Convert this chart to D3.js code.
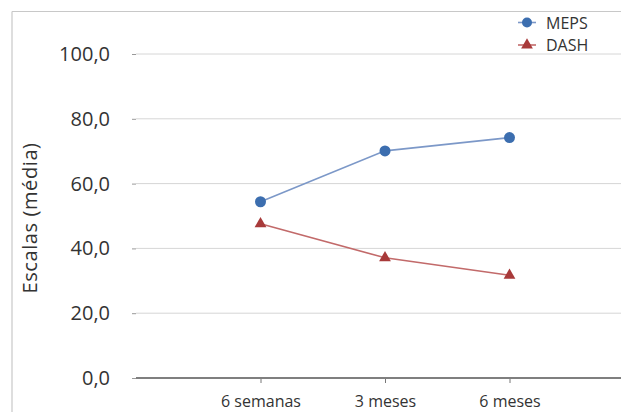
<!DOCTYPE html>
<html>
<head>
<meta charset="utf-8">
<script src="https://cdn.jsdelivr.net/npm/d3@7"></script>
<style>
  body { margin: 0; background: #fff; }
  text { font-family: "Open Sans", Lato, sans-serif; fill: #333; }
</style>
</head>
<body>
<div id="chart"></div>
<script>
// data
const categories = ["6 semanas", "3 meses", "6 meses"];
const meps = [54.4, 70.1, 74.2];
const dash = [47.6, 37.1, 31.7];
const yTicks = [0, 20, 40, 60, 80, 100];
const seriesNames = ["MEPS", "DASH"];

const width = 621, height = 412;

const svg = d3.select("#chart").append("svg")
    .attr("width", width)
    .attr("height", height);

// outer frame (only top and left edges are visible)
svg.append("line").attr("x1", 12).attr("x2", width).attr("y1", 11.5).attr("y2", 11.5)
    .attr("stroke", "#c8c8c8").attr("stroke-width", 1.2);
svg.append("line").attr("x1", 12).attr("x2", 12).attr("y1", 11.5).attr("y2", height)
    .attr("stroke", "#c8c8c8").attr("stroke-width", 1.2);

const plotLeft = 136;
const step = 124.5;

// category positions: one empty slot before the first category
const xScale = d3.scalePoint()
    .domain(categories)
    .range([plotLeft + step, plotLeft + step * categories.length]);

const yScale = d3.scaleLinear().domain([0, 100]).range([378, 54]);

// gridlines
svg.append("g").selectAll("line")
    .data(yTicks.filter(d => d > 0))
    .enter().append("line")
    .attr("x1", plotLeft)
    .attr("x2", width)
    .attr("y1", d => yScale(d))
    .attr("y2", d => yScale(d))
    .attr("stroke", "#d6d6d6")
    .attr("stroke-width", 1);

// y axis labels and small ticks
const yAxis = d3.axisLeft(yScale)
    .tickValues(yTicks)
    .tickSize(4)
    .tickPadding(22)
    .tickFormat(d => d3.format(".1f")(d).replace(".", ","));

const yG = svg.append("g")
    .attr("transform", `translate(${plotLeft}, 0)`)
    .call(yAxis);
yG.select(".domain").remove();
yG.selectAll(".tick line").attr("stroke", "#999");
yG.selectAll(".tick text")
    .style("font-size", "20px")
    .style("fill", "#333");

// x axis
const xAxis = d3.axisBottom(xScale).tickSize(5).tickPadding(13);
const xG = svg.append("g")
    .attr("transform", `translate(0, ${yScale(0)})`)
    .call(xAxis);
xG.select(".domain").remove();
xG.selectAll(".tick line").attr("stroke", "#777");
xG.selectAll(".tick text")
    .style("font-size", "16px")
    .style("fill", "#333");

svg.append("line")
    .attr("x1", plotLeft).attr("x2", width)
    .attr("y1", yScale(0)).attr("y2", yScale(0))
    .attr("stroke", "#7f7f7f")
    .attr("stroke-width", 2);

// y axis title
svg.append("text")
    .attr("transform", `translate(37, ${yScale(50) + 2}) rotate(-90)`)
    .attr("text-anchor", "middle")
    .style("font-size", "20px")
    .style("letter-spacing", "0.6px")
    .text("Escalas (média)");

const line = d3.line()
    .x((d, i) => xScale(categories[i]))
    .y(d => yScale(d));

// MEPS
svg.append("path")
    .datum(meps)
    .attr("d", line)
    .attr("fill", "none")
    .attr("stroke", "#7c98c8")
    .attr("stroke-width", 1.6);

svg.append("g").selectAll("circle")
    .data(meps)
    .enter().append("circle")
    .attr("cx", (d, i) => xScale(categories[i]))
    .attr("cy", d => yScale(d))
    .attr("r", 5.5)
    .attr("fill", "#3c6eaf");

// DASH
svg.append("path")
    .datum(dash)
    .attr("d", line)
    .attr("fill", "none")
    .attr("stroke", "#c26a6a")
    .attr("stroke-width", 1.6);

const tri = d3.symbol().type(d3.symbolTriangle).size(60);
svg.append("g").selectAll("path")
    .data(dash)
    .enter().append("path")
    .attr("d", tri)
    .attr("transform", (d, i) => `translate(${xScale(categories[i])}, ${yScale(d)})`)
    .attr("fill", "#a83a3a");

// legend
const legend = svg.append("g").attr("transform", "translate(527, 22.5)");
seriesNames.forEach((name, i) => {
    const g = legend.append("g").attr("transform", `translate(0, ${i * 22.5})`);
    g.append("line").attr("x1", -9).attr("x2", 9).attr("y1", 0).attr("y2", 0)
        .attr("stroke", i === 0 ? "#7c98c8" : "#c26a6a").attr("stroke-width", 1.6);
    if (i === 0) {
        g.append("circle").attr("r", 5).attr("fill", "#3c6eaf");
    } else {
        g.append("path").attr("d", tri).attr("fill", "#a83a3a");
    }
    g.append("text")
        .attr("x", 19)
        .attr("y", 6)
        .style("font-size", "16px")
        .text(name);
});
</script>
</body>
</html>
